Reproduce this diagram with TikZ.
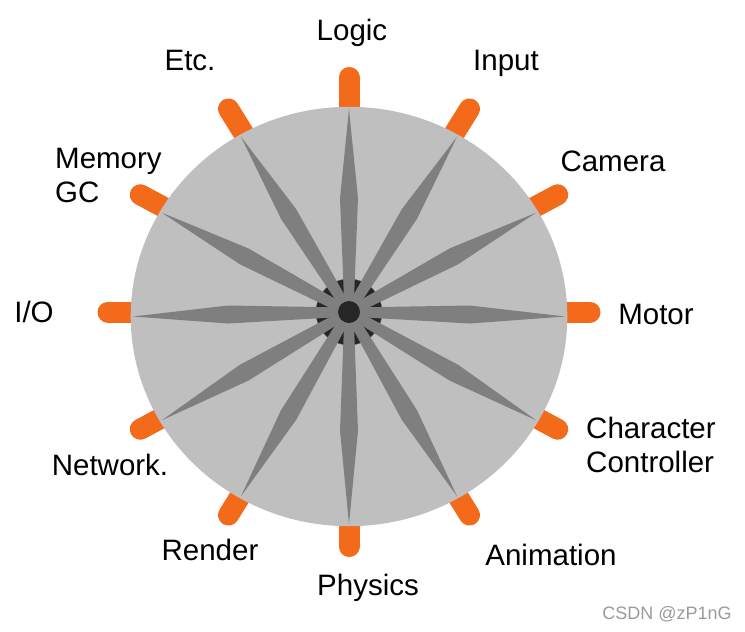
\documentclass[tikz,border=0pt]{standalone}
\usepackage{fontspec}
\setmainfont{Liberation Sans}
\definecolor{disc}{HTML}{BFBFBF}
\definecolor{spokegray}{HTML}{7F7F7F}
\definecolor{taborange}{HTML}{F46A1B}
\definecolor{hubdark}{HTML}{262626}
\definecolor{wmgray}{HTML}{9A9A9A}
\tikzset{
  tabbar/.style={draw=taborange, line width=21pt, line cap=round},
  spokeshape/.style={fill=spokegray},
  lbl/.style={font=\fontsize{29.5}{34}\selectfont, inner sep=0pt, anchor=base},
  lblw/.style={lbl, anchor=base west},
}
\begin{document}
\begin{tikzpicture}[x=1pt,y=-1pt]
\useasboundingbox (0,0) rectangle (745,632);
% tabs
\foreach \a in {0,30,...,330}{
  \draw[tabbar] ({349+150*cos(\a)},{312-150*sin(\a)}) -- ({349+241*cos(\a)},{312-234.5*sin(\a)});
}
% disc
\fill[disc] (349,316.5) ellipse [x radius=218.3, y radius=209.7];
% hub ring
\filldraw[fill=hubdark, draw=spokegray!60!hubdark, line width=0.4pt] (349,312) circle [radius=33];
% spokes
\foreach \a in {0,30,...,330}{
  \pgfmathsetmacro\tx{349+216*cos(\a)}
  \pgfmathsetmacro\ty{316.5-207.5*sin(\a)}
  \pgfmathsetmacro\dx{\tx-349}
  \pgfmathsetmacro\dy{\ty-312}
  \pgfmathsetmacro\L{veclen(\dx,\dy)}
  \pgfmathsetmacro\nx{-\dy/\L}
  \pgfmathsetmacro\ny{\dx/\L}
  \fill[spokeshape] ({349+4.5*\nx},{312+4.5*\ny})
    -- ({349+0.56*\dx+9*\nx},{312+0.56*\dy+9*\ny})
    -- (\tx,\ty)
    -- ({349+0.56*\dx-9*\nx},{312+0.56*\dy-9*\ny})
    -- ({349-4.5*\nx},{312-4.5*\ny}) -- cycle;
}
% hub dot
\fill[hubdark] (349,312) circle [radius=11];
% labels
\node[lbl] (logic) at (352,40) {Logic};
\node[lbl] (input) at (506,70) {Input};
\node[lbl] (camera) at (613,171) {Camera};
\node[lbl] (motor) at (656,324) {Motor};
\node[lblw] (char1) at (586,438) {Character};
\node[lblw] (char2) at (586,472) {Controller};
\node[lbl] (anim) at (551,565) {Animation};
\node[lbl] (phys) at (368,595) {Physics};
\node[lbl] (render) at (210,560) {Render};
\node[lbl] (net) at (110,475) {Network.};
\node[lbl] (io) at (34,322) {I/O};
\node[lblw] (mem1) at (55,168) {Memory};
\node[lblw] (mem2) at (55,202) {GC};
\node[lbl] (etc) at (190,70) {Etc.};
\node[font=\fontsize{18}{20}\selectfont, text=wmgray, inner sep=0pt, anchor=base] (wm) at (667,619) {CSDN @zP1nG};
\end{tikzpicture}
\end{document}
